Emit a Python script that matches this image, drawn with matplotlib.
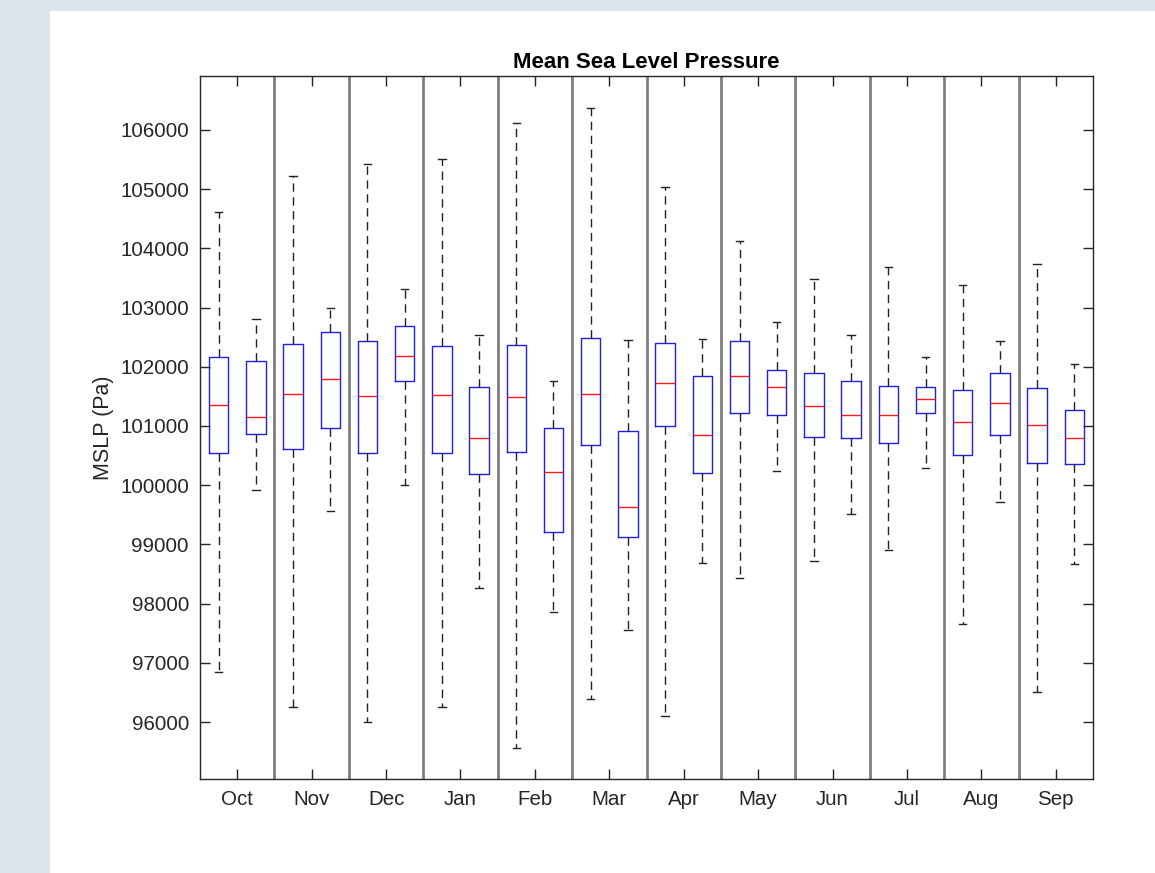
import matplotlib
matplotlib.use("Agg")
import matplotlib.pyplot as plt
from matplotlib.patches import Rectangle

# Monthly MSLP distributions, two boxes per month (Pa)
months = ['Oct', 'Nov', 'Dec', 'Jan', 'Feb', 'Mar',
          'Apr', 'May', 'Jun', 'Jul', 'Aug', 'Sep']

whisker_hi = [104610, 102807, 105228, 102998, 105431, 103314, 105510, 102544,
              106118, 101767, 106372, 102444, 105037, 102472, 104130, 102752,
              103478, 102536, 103681, 102162, 103372, 102436, 103736, 102054]
q3 = [102166, 102098, 102390, 102584, 102430, 102683, 102346, 101653,
      102363, 100962, 102493, 100916, 102407, 101840, 102430, 101946,
      101900, 101756, 101676, 101664, 101614, 101900, 101642, 101265]
medians = [101360, 101152, 101546, 101789, 101501, 102189, 101524, 100804,
           101490, 100225, 101546, 99632, 101726, 100845, 101840, 101664,
           101333, 101182, 101186, 101451, 101062, 101383, 101022, 100797]
q1 = [100539, 100870, 100617, 100973, 100544, 101756, 100544, 100186,
      100568, 99206, 100674, 99132, 101000, 100203, 101225, 101186,
      100821, 100792, 100708, 101225, 100505, 100856, 100370, 100363]
whisker_lo = [96845, 99919, 96250, 99569, 96005, 100012, 96262, 98260,
              95566, 97853, 96383, 97554, 96098, 98690, 98435, 100240,
              98714, 99510, 98900, 100296, 97655, 99716, 96512, 98677]

stats = []
for i in range(len(medians)):
    stats.append({'med': medians[i], 'q1': q1[i], 'q3': q3[i],
                  'whislo': whisker_lo[i], 'whishi': whisker_hi[i],
                  'fliers': []})

fig = plt.figure(figsize=(11.55, 8.73), dpi=100)
fig.patch.set_facecolor('#dde4ec')
# white canvas inset from the left and top edges
fig.add_artist(Rectangle((50 / 1155, 0), 1, 862 / 873, transform=fig.transFigure,
                         facecolor='white', edgecolor='none', zorder=0))

ax = fig.add_axes([0.1732, 0.1077, 0.7731, 0.8053])
positions = list(range(1, len(medians) + 1))
ax.bxp(stats, positions=positions, widths=0.52, capwidths=0.2, showfliers=False,
       boxprops=dict(color='#1f1fe0', linewidth=1.0),
       medianprops=dict(color='#ff1a1a', linewidth=1.0),
       whiskerprops=dict(color='#222222', linewidth=1.0, linestyle=(0, (6, 4))),
       capprops=dict(color='#222222', linewidth=1.0))

# separators between months
for k in range(1, len(months)):
    ax.axvline(2 * k + 0.5, color='#808080', linewidth=2.0, zorder=0)

ax.set_xlim(0.5, 24.5)
ax.set_ylim(95040, 106910)
ax.set_xticks([2 * k + 1.5 for k in range(len(months))])
ax.set_xticklabels(months)
ax.set_yticks(range(96000, 106001, 1000))
ax.set_yticklabels([str(v) for v in range(96000, 106001, 1000)])

font = 'Liberation Sans'
ax.tick_params(direction='in', length=7, width=1.0, colors='#262626',
               top=True, right=True, labelsize=14.8, pad=8)
for lab in ax.get_xticklabels() + ax.get_yticklabels():
    lab.set_fontfamily(font)
for sp in ax.spines.values():
    sp.set_color('#262626')
    sp.set_linewidth(1.0)

ax.set_ylabel('MSLP (Pa)', fontsize=15.5, family=font, color='#262626')
ax.yaxis.set_label_coords(-0.096, 0.5)
ax.set_title('Mean Sea Level Pressure', fontsize=16, family=font,
             fontweight='bold', color='black', pad=6)

plt.savefig('out.png', dpi=100)
